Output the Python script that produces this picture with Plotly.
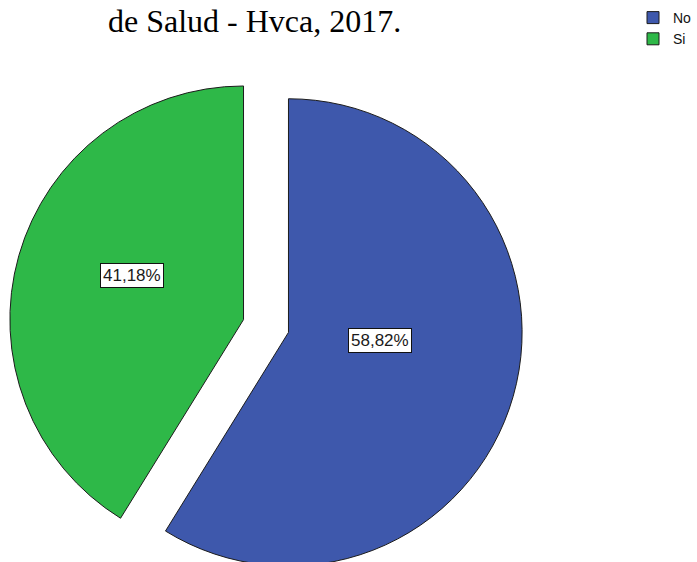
import plotly.graph_objects as go

categories = ["No", "Si"]
counts = [10, 7]
colors = ["#3E58AC", "#2EB848"]
title_text = "de Salud - Hvca, 2017."

total = sum(counts)
pct_labels = [f"{c / total * 100:.2f}%".replace(".", ",") for c in counts]

W, H = 697, 584
ML, MR, MT, MB = 9, 172, 68, 0
PW, PH = W - ML - MR, H - MT - MB

def px_to_paper(px, py):
    return (px - ML) / PW, (H - MB - py) / PH

fig = go.Figure(
    go.Pie(
        labels=categories,
        values=counts,
        sort=False,
        direction="clockwise",
        rotation=0,
        pull=[0.1, 0.1],
        textinfo="none",
        hoverinfo="label+percent",
        marker=dict(colors=colors, line=dict(color="#1c1c1c", width=1)),
        domain=dict(x=[0, 1], y=[0, 1]),
    )
)

label_px = [(381, 340), (132, 275)]
for txt, (px, py) in zip(pct_labels, label_px):
    ax, ay = px_to_paper(px, py)
    fig.add_annotation(
        x=ax, y=ay, xref="paper", yref="paper", text=txt, showarrow=False,
        xanchor="center", yanchor="middle",
        font=dict(family="Liberation Sans, Arial", size=17, color="#1a1a1a"),
        bgcolor="white", bordercolor="#111111", borderwidth=1, borderpad=2,
    )

lx, ly = px_to_paper(636, 2)
fig.update_layout(
    width=W, height=H,
    margin=dict(l=ML, r=MR, t=MT, b=MB, pad=0),
    paper_bgcolor="white", plot_bgcolor="white",
    title=dict(
        text=title_text, xref="container", yref="container",
        x=108 / W, y=1 - 21 / H, xanchor="left", yanchor="middle",
        font=dict(family="Liberation Serif, Times New Roman", size=32, color="black"),
    ),
    showlegend=True,
    legend=dict(
        x=lx, y=ly, xanchor="left", yanchor="top",
        font=dict(family="Liberation Sans, Arial", size=14, color="#111111"),
        bgcolor="rgba(0,0,0,0)", tracegroupgap=0,
    ),
)

fig.write_html(
    "out.html",
    post_script="document.body.style.margin='0';document.body.style.overflow='hidden';document.documentElement.style.overflow='hidden';",
)
